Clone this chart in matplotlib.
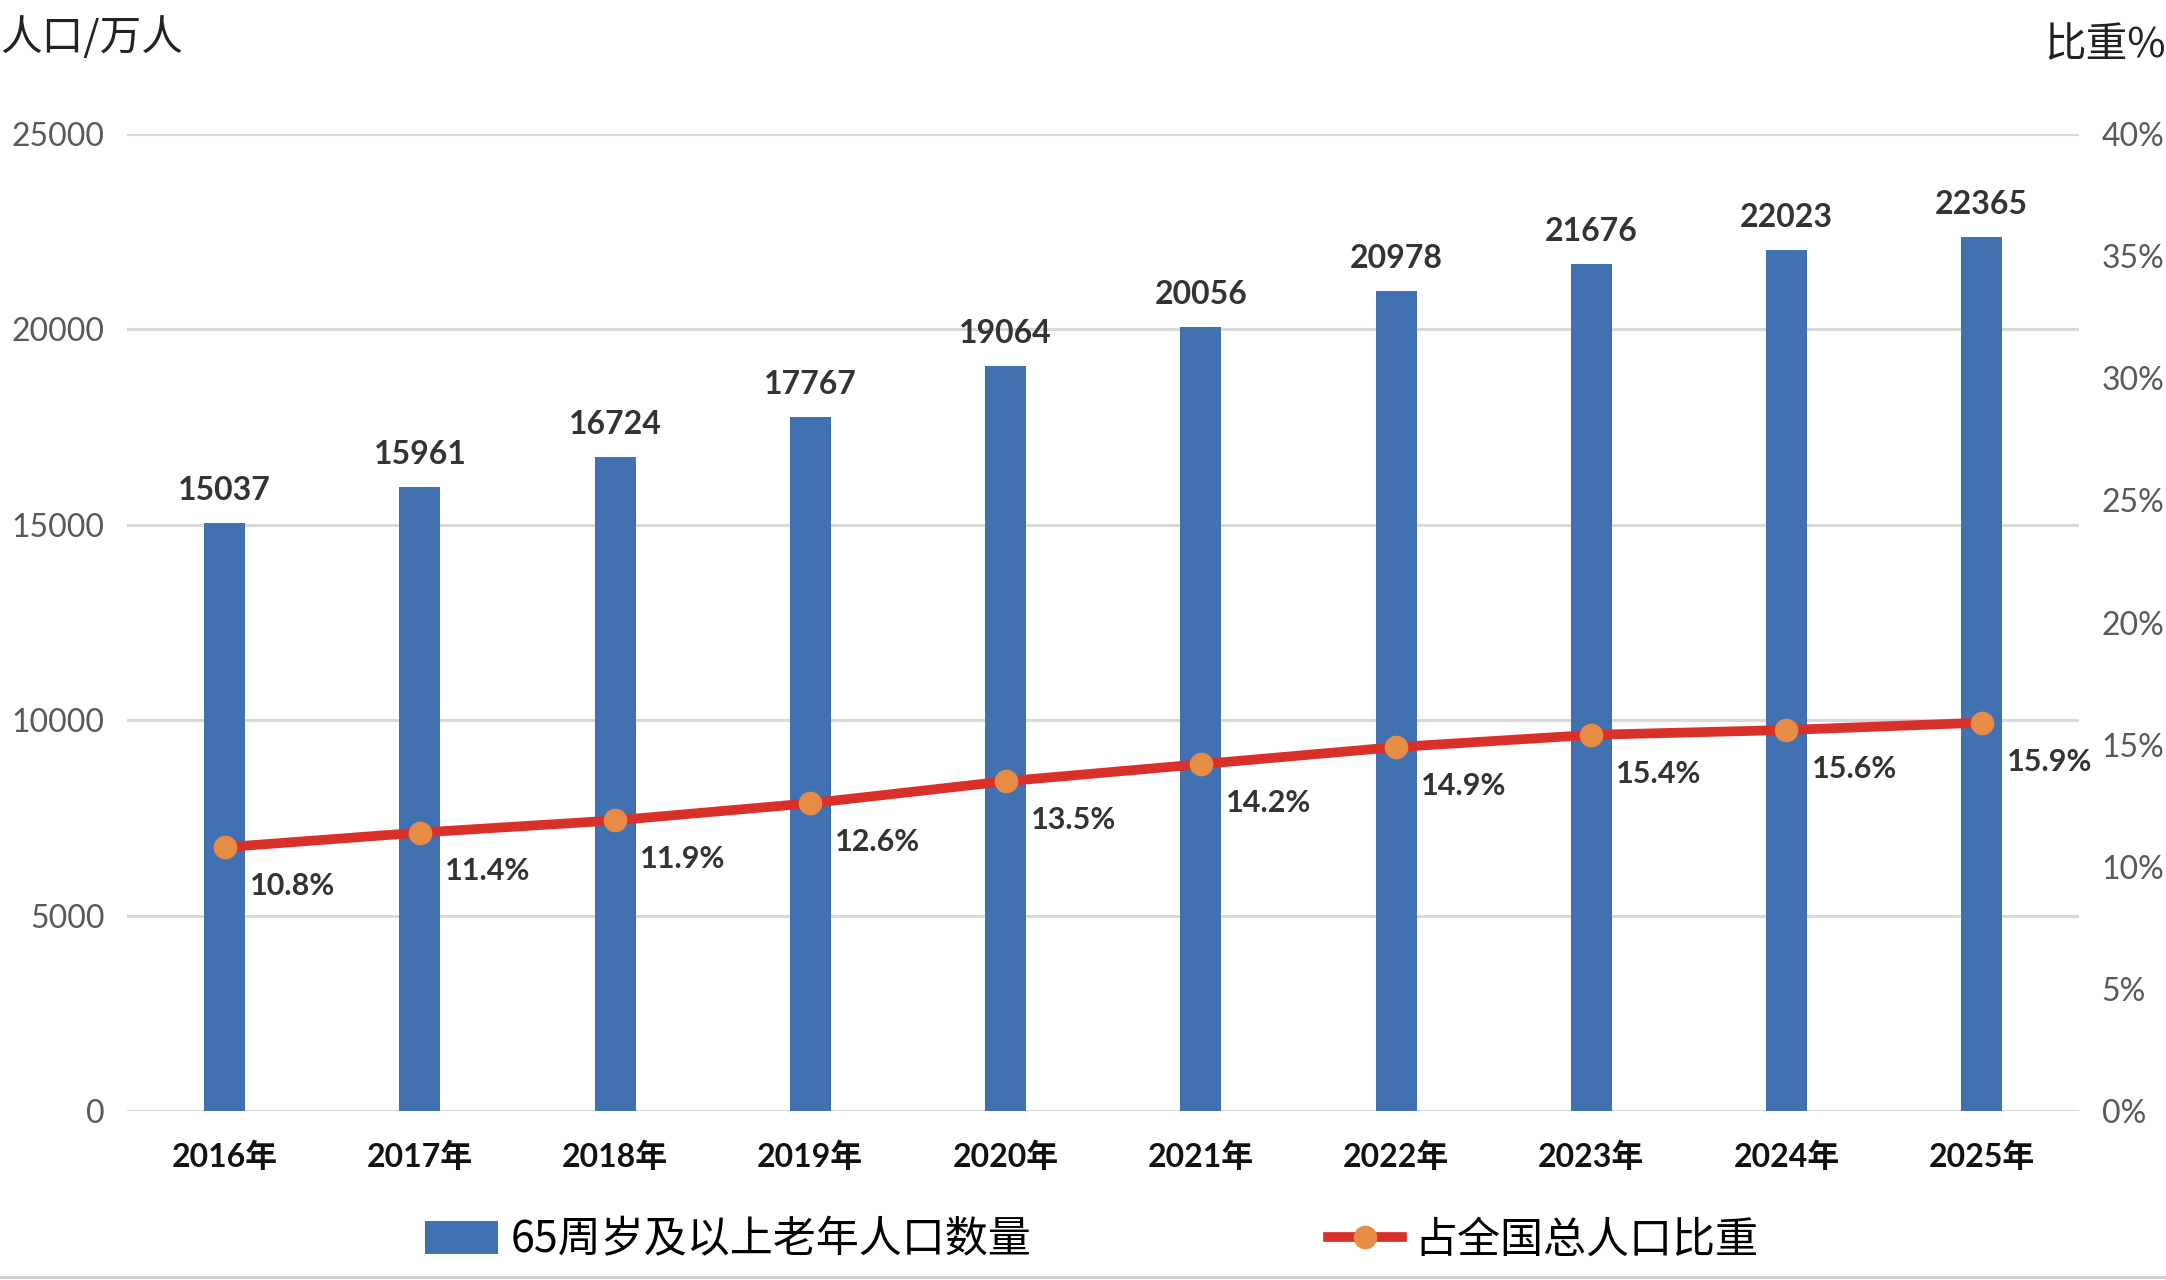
import matplotlib
matplotlib.use("Agg")
import matplotlib.pyplot as plt
from matplotlib.patches import Patch
from matplotlib.lines import Line2D

plt.rcParams['font.family'] = ['Lato', 'Noto Sans CJK SC', 'DejaVu Sans']

years = ["2016年", "2017年", "2018年", "2019年", "2020年",
         "2021年", "2022年", "2023年", "2024年", "2025年"]
laonian = [15037, 15961, 16724, 17767, 19064, 20056, 20978, 21676, 22023, 22365]
bizhong = [10.8, 11.4, 11.9, 12.6, 13.5, 14.2, 14.9, 15.4, 15.6, 15.9]

left_ticks = [0, 5000, 10000, 15000, 20000, 25000]
right_ticks = [0, 5, 10, 15, 20, 25, 30, 35, 40]

bar_color = "#4171b0"
line_color = "#d9302a"
marker_color = "#e68c45"
grid_color = "#d9d9d9"

fig = plt.figure(figsize=(21.66, 12.8), dpi=100)
ax = fig.add_axes([0.0586, 0.132, 0.9014, 0.7633])
x = list(range(len(years)))

ax.bar(x, laonian, width=0.21, color=bar_color, zorder=3)
for xi, v in zip(x, laonian):
    ax.annotate(str(v), (xi, v), xytext=(0, 13), textcoords="offset points",
                ha="center", va="bottom", fontsize=23, fontweight="bold",
                color="#333333")

ax.set_xlim(-0.5, len(years) - 0.5)
ax.set_ylim(0, 25000)
ax.set_yticks(left_ticks)
ax.set_xticks(x)
ax.set_xticklabels(years, fontsize=23, fontweight="bold", color="#111111")
ax.yaxis.grid(True, color=grid_color, linewidth=2.2, zorder=0)
ax.set_axisbelow(True)
ax.tick_params(axis="y", length=0, pad=16, labelsize=23, labelcolor="#595959")
ax.tick_params(axis="x", length=0, pad=22)
for s in ax.spines.values():
    s.set_visible(False)

ax2 = ax.twinx()
ax2.plot(x, bizhong, color=line_color, linewidth=7, marker="o",
         markersize=16, markerfacecolor=marker_color,
         markeredgecolor=marker_color, zorder=4)
for xi, v in zip(x, bizhong):
    ax2.annotate(f"{v}%", (xi, v), xytext=(18, -28), textcoords="offset points",
                 ha="left", va="center", fontsize=22, fontweight="bold",
                 color="#333333")
ax2.set_ylim(0, 40)
ax2.set_yticks(right_ticks)
ax2.set_yticklabels([f"{t}%" for t in right_ticks])
ax2.tick_params(axis="y", length=0, pad=16, labelsize=23, labelcolor="#595959")
for s in ax2.spines.values():
    s.set_visible(False)

fig.text(0.0, 0.971, "人口/万人", fontsize=30, color="#222222",
         ha="left", va="center", family=['Noto Sans CJK SC', 'DejaVu Sans'])
fig.text(1.0, 0.964, "比重%", fontsize=30, color="#222222", fontweight="medium",
         ha="right", va="center", family=['Noto Sans CJK SC', 'DejaVu Sans'])

handles = [Patch(facecolor=bar_color),
           Line2D([0], [0], color=line_color, linewidth=7, marker="o",
                  markersize=16, markerfacecolor=marker_color,
                  markeredgecolor=marker_color)]
labels = ["65周岁及以上老年人口数量", "占全国总人口比重"]
fig.legend(handles, labels, loc="center left", bbox_to_anchor=(0.196, 0.031),
           ncol=2, frameon=False, borderpad=0, borderaxespad=0,
           handlelength=1.7, handleheight=0.8, handletextpad=0.3,
           columnspacing=6.9,
           prop={"family": ['Noto Sans CJK SC', 'DejaVu Sans'], "size": 31})

fig.add_artist(Line2D([0, 1], [0.002, 0.002], color="#cccccc", linewidth=2,
                      transform=fig.transFigure))

fig.savefig("out.png", dpi=100)
